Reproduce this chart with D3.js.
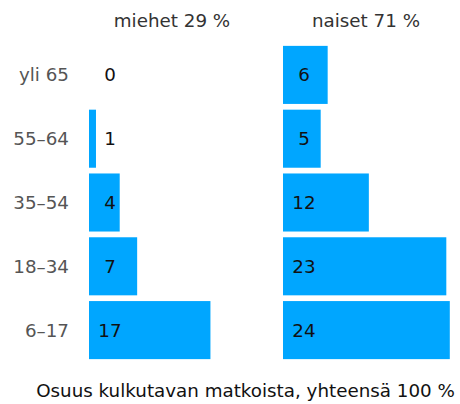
<!DOCTYPE html>
<html>
<head>
<meta charset="utf-8">
<script src="https://cdn.jsdelivr.net/npm/d3@7"></script>
<style>
    body { margin: 0; background: #fff; }
    text { font-family: "DejaVu Sans", Verdana, sans-serif; }
</style>
</head>
<body>
<div id="chart"></div>
<script>

var ageGroups = ['yli 65', '55–64', '35–54', '18–34', '6–17'];
var menValues = [0, 1, 4.4, 6.9, 17.4];
var womenValues = [6.4, 5.4, 12.3, 23.4, 23.9];
var panelTitles = ['miehet 29 %', 'naiset 71 %'];
var xTitle = 'Osuus kulkutavan matkoista, yhteensä 100 %';

var width = 460,
    height = 404,
    fontSize = 18.3;

var svg = d3.select('#chart').append('svg')
    .attr('width', width)
    .attr('height', height);

var y = d3.scaleBand()
    .domain(ageGroups)
    .range([43, 362])
    .paddingInner(0.09)
    .paddingOuter(0.045);

// one length scale shared by both panels, only the origin differs
var x = d3.scaleLinear()
    .domain([0, 24])
    .range([0, 167.5]);

var panels = [
    { title: panelTitles[0], values: menValues, x0: 89 },
    { title: panelTitles[1], values: womenValues, x0: 283 }
];

var fmt = d3.format('.0f');

panels.forEach(function(p) {
    var g = svg.append('g')
        .attr('transform', 'translate(' + p.x0 + ',0)');

    g.selectAll('rect')
        .data(p.values)
        .enter().append('rect')
        .attr('x', 0)
        .attr('y', function(d, i) { return y(ageGroups[i]); })
        .attr('width', function(d) { return x(d); })
        .attr('height', y.bandwidth())
        .attr('fill', '#00a6ff');

    g.selectAll('text.value')
        .data(p.values)
        .enter().append('text')
        .attr('class', 'value')
        .attr('x', 21)
        .attr('y', function(d, i) { return y(ageGroups[i]) + y.bandwidth() / 2; })
        .attr('dy', '0.36em')
        .attr('text-anchor', 'middle')
        .attr('font-size', fontSize)
        .attr('fill', '#111')
        .text(function(d) { return fmt(d); });

    g.append('text')
        .attr('x', 83)
        .attr('y', 27)
        .attr('text-anchor', 'middle')
        .attr('font-size', fontSize)
        .attr('fill', '#333')
        .text(p.title);
});

svg.selectAll('text.age')
    .data(ageGroups)
    .enter().append('text')
    .attr('class', 'age')
    .attr('x', 69)
    .attr('y', function(d) { return y(d) + y.bandwidth() / 2; })
    .attr('dy', '0.36em')
    .attr('text-anchor', 'end')
    .attr('font-size', fontSize)
    .attr('fill', '#555')
    .text(function(d) { return d; });

svg.append('text')
    .attr('x', 245.5)
    .attr('y', 397)
    .attr('text-anchor', 'middle')
    .attr('font-size', fontSize)
    .attr('fill', '#111')
    .text(xTitle);

</script>
</body>
</html>
